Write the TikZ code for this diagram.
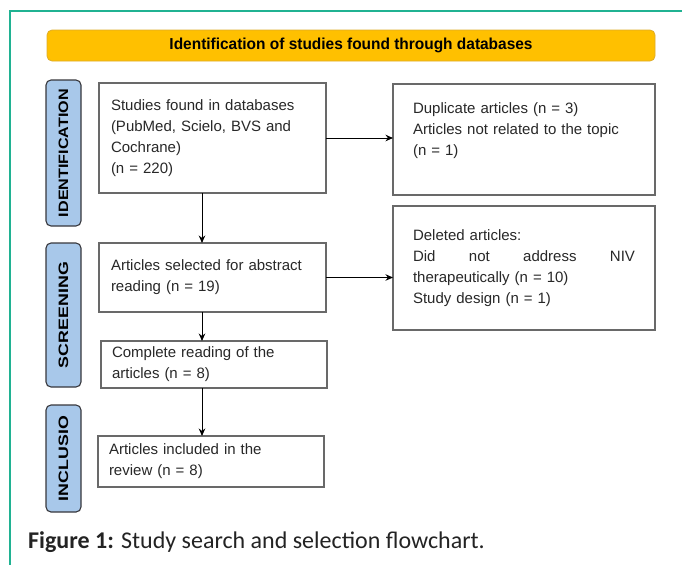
\documentclass[tikz,border=0pt]{standalone}
\usepackage{fontspec}
\setmainfont{Liberation Sans}
\newfontfamily\capfont{Carlito}
\usetikzlibrary{arrows.meta}

\definecolor{framegreen}{RGB}{32,178,146}
\definecolor{banneryellow}{RGB}{255,192,0}
\definecolor{bannerrim}{RGB}{222,172,40}
\definecolor{tabblue}{RGB}{168,200,234}
\definecolor{tabrim}{RGB}{55,55,60}
\definecolor{boxrim}{RGB}{105,105,105}
\definecolor{boxtext}{RGB}{40,40,40}
\definecolor{captext}{RGB}{35,35,35}

\tikzset{
  banner/.style={draw=bannerrim, fill=banneryellow, line width=0.8pt,
    rounded corners=5pt, inner sep=0pt, text=black},
  stagetab/.style={draw=tabrim, fill=tabblue, line width=1.1pt,
    rounded corners=5pt, inner sep=0pt, rotate=90, text=black},
  flowbox/.style={draw=boxrim, fill=white, line width=1.2pt, text=boxtext,
    font=\fontsize{15}{21}\selectfont, align=left, anchor=north west,
    inner ysep=0pt, outer sep=0pt},
  flowarrow/.style={draw=black, line width=1pt,
    -{Stealth[length=7.5pt,width=6.5pt]}},
}

\begin{document}
\begin{tikzpicture}[x=1pt,y=-1pt]
\useasboundingbox (0,0) rectangle (682,565);

% page frame (top and left rules)
\draw[framegreen, line width=1.2pt] (682,11) -- (10,11) -- (10,565);

% header banner
\node[banner, minimum width=608pt, minimum height=31pt] (hdr) at (351,45.5)
  {\resizebox{363pt}{11.5pt}{\bfseries Identification of studies found through databases}};

% stage tabs
\node[stagetab, minimum width=146pt, minimum height=35pt] (tid) at (63.5,153)
  {\resizebox{128pt}{9.5pt}{\bfseries IDENTIFICATION}};
\node[stagetab, minimum width=144pt, minimum height=35pt] (tscr) at (63.5,315)
  {\resizebox{106pt}{9.5pt}{\bfseries SCREENING}};
\node[stagetab, minimum width=107pt, minimum height=35pt] (tinc) at (63.5,458.5)
  {\resizebox{85pt}{9.5pt}{\bfseries INCLUSIO}};

% flow boxes
\node[flowbox, minimum width=227pt, minimum height=110pt, text width=203pt, inner xsep=12pt]
  (found) at (99,83)
  {Studies found in databases\\(PubMed, Scielo, BVS and\\Cochrane)\\(n = 220)};
\node[flowbox, minimum width=262pt, minimum height=111pt, text width=222pt, inner xsep=20pt]
  (dup) at (393,84)
  {Duplicate articles (n = 3)\\Articles not related to the topic\\(n = 1)\\\mbox{}};
\node[flowbox, minimum width=227pt, minimum height=69pt, text width=203pt, inner xsep=12pt]
  (abs) at (99,243)
  {Articles selected for abstract\\reading (n = 19)};
\node[flowbox, minimum width=262pt, minimum height=124pt, text width=222pt, inner xsep=20pt]
  (del) at (393,206)
  {Deleted articles:\\\leavevmode\hbox to 222pt{Did\hfill not\hfill address\hfill NIV}\\therapeutically (n = 10)\\Study design (n = 1)};
\node[flowbox, minimum width=226pt, minimum height=47pt, text width=204pt, inner xsep=11pt]
  (full) at (101,341)
  {Complete reading of the\\articles (n = 8)};
\node[flowbox, minimum width=226pt, minimum height=51pt, text width=204pt, inner xsep=11pt]
  (incl) at (98,436)
  {Articles included in the\\review (n = 8)};

% connectors
\coordinate (spine) at (202,0);
\draw[flowarrow] (found.south -| spine) -- (abs.north -| spine);
\draw[flowarrow] (abs.south -| spine) -- (full.north -| spine);
\draw[flowarrow] (full.south -| spine) -- (incl.north -| spine);
\draw[flowarrow] (found.east) -- (found.east -| dup.west);
\draw[flowarrow] (abs.east) -- (abs.east -| del.west);

% caption
\node[anchor=base west, inner sep=0pt, text=captext,
  font=\capfont\fontsize{24}{28}\selectfont] (cap) at (28,548)
  {\textbf{Figure 1:} Study search and selection flowchart.};
\end{tikzpicture}
\end{document}
